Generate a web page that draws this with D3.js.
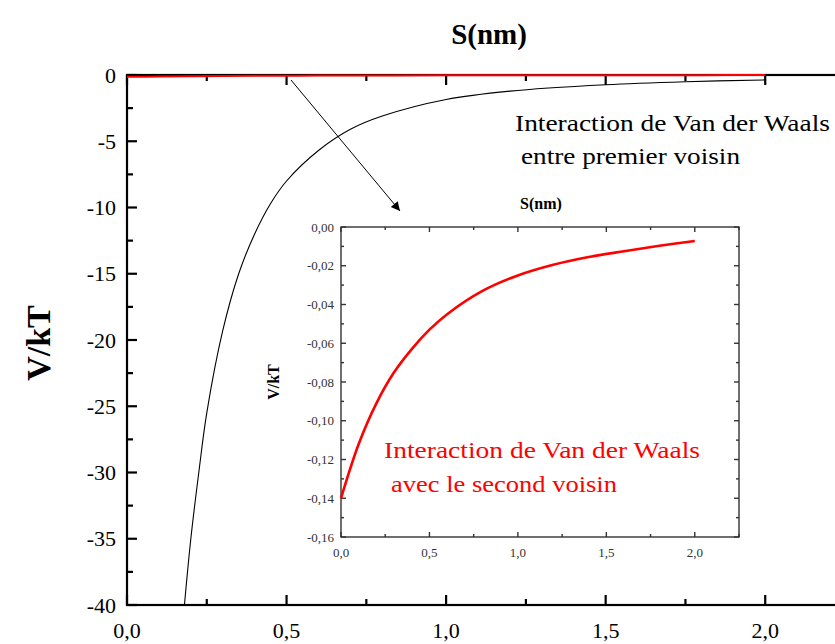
<!DOCTYPE html>
<html>
<head>
<meta charset="utf-8">
<script src="https://cdn.jsdelivr.net/npm/d3@7"></script>
<style>
  html, body { margin: 0; padding: 0; background: #fff; }
  svg { display: block; }
  svg text { font-family: 'Liberation Serif', 'Times New Roman', Tinos, 'Noto Serif', 'DejaVu Serif', FreeSerif, serif; }
</style>
</head>
<body>
<svg id="chart" width="835" height="644"></svg>
<script>
// ---- Data ----
// Main curve: first-neighbour Van der Waals interaction (V/kT vs S in nm)
const mainS = [0.18, 0.2, 0.225, 0.25, 0.3, 0.35, 0.4, 0.45, 0.5, 0.6, 0.7, 0.8, 1.0, 1.2, 1.5, 1.75, 2.0];
const mainV = [-40, -35, -30, -25.5, -19.3, -15, -12.0, -9.7, -8.0, -5.7, -4.1, -3.1, -1.85, -1.22, -0.74, -0.51, -0.37];
// Second-neighbour curve (shown in the inset, and flat on the main axes)
const secS = [0, 0.1, 0.2, 0.3, 0.4, 0.5, 0.6, 0.8, 1.0, 1.2, 1.4, 1.6, 1.8, 2.0];
const secV = [-0.140, -0.112, -0.091, -0.075, -0.063, -0.053, -0.045, -0.033, -0.025, -0.0195, -0.0155, -0.0125, -0.0097, -0.0072];
// Tick labels
const mainXTicks = [0, 0.5, 1.0, 1.5, 2.0];
const mainYTicks = [0, -5, -10, -15, -20, -25, -30, -35, -40];
const insetXTicks = [0, 0.5, 1.0, 1.5, 2.0];
const insetYTicks = [0, -0.02, -0.04, -0.06, -0.08, -0.10, -0.12, -0.14, -0.16];
// Texts
const xTitle = "S(nm)";
const yTitle = "V/kT";
const note1 = ["Interaction de Van der Waals", "entre premier voisin"];
const note2 = ["Interaction de Van der Waals", "avec le second voisin"];

const svg = d3.select("#chart");
const fmt = (f) => (d) => f(d).replace(".", ",").replace("\u2212", "-");

// ---- Main plot ----
const M = { left: 127, top: 75, right: 845, bottom: 605 };
const x = d3.scaleLinear().domain([0, 2.25]).range([M.left, M.right]);
const y = d3.scaleLinear().domain([-40, 0]).range([M.bottom, M.top]);

const defs = svg.append("defs");
defs.append("clipPath").attr("id", "mainclip")
  .append("rect").attr("x", M.left).attr("y", M.top - 3).attr("width", M.right - M.left).attr("height", M.bottom - M.top + 3);

function frame(g, xs, ys, o) {
  const isMaj = (arr, v) => arr.some(m => Math.abs(m - v) < 1e-6);
  xs.forEach(v => {
    const px = o.x(v), L = isMaj(o.xMajor, v) ? o.majLen : o.minLen;
    g.append("line").attr("x1", px).attr("x2", px).attr("y1", o.bottom).attr("y2", o.bottom - L)
      .attr("stroke", o.stroke).attr("stroke-width", o.sw);
    if (v <= o.topTicksMax + 1e-6)
      g.append("line").attr("x1", px).attr("x2", px).attr("y1", o.top).attr("y2", o.top + L)
        .attr("stroke", o.stroke).attr("stroke-width", o.sw);
  });
  ys.forEach(v => {
    const py = o.y(v), L = isMaj(o.yMajor, v) ? o.majLen : o.minLen;
    g.append("line").attr("x1", o.left).attr("x2", o.left + L).attr("y1", py).attr("y2", py)
      .attr("stroke", o.stroke).attr("stroke-width", o.sw);
    g.append("line").attr("x1", o.right).attr("x2", o.right - L).attr("y1", py).attr("y2", py)
      .attr("stroke", o.stroke).attr("stroke-width", o.sw);
  });
  g.append("rect").attr("x", o.left).attr("y", o.top).attr("width", o.right - o.left).attr("height", o.bottom - o.top)
    .attr("fill", "none").attr("stroke", o.stroke).attr("stroke-width", o.sw);
}

const gMain = svg.append("g");
frame(gMain, d3.range(0, 2.251, 0.25), d3.range(-40, 0.01, 2.5), {
  x, y, xMajor: mainXTicks, yMajor: mainYTicks, majLen: 10, minLen: 6,
  stroke: "#000", sw: 2.2, left: M.left, right: M.right, top: M.top, bottom: M.bottom, topTicksMax: 2.0
});

gMain.selectAll("text.xl").data(mainXTicks).join("text").attr("class", "xl")
  .attr("x", d => x(d)).attr("y", 638).attr("text-anchor", "middle")
  .attr("font-size", 22).attr("fill", "#000").text(fmt(d3.format(".1f")));
gMain.selectAll("text.yl").data(mainYTicks).join("text").attr("class", "yl")
  .attr("x", 116).attr("y", d => y(d)).attr("dy", "0.35em").attr("text-anchor", "end")
  .attr("font-size", 22).attr("fill", "#000").text(fmt(d3.format("d")));

// titles
svg.append("text").attr("x", 489).attr("y", 44).attr("text-anchor", "middle")
  .attr("font-size", 29).attr("font-weight", "bold").text(xTitle);
svg.append("text").attr("transform", "translate(50,343) rotate(-90)").attr("text-anchor", "middle")
  .attr("font-size", 34).attr("font-weight", "bold").text(yTitle);

// main curves
const lineMain = d3.line().x(d => x(d[0])).y(d => y(d[1])).curve(d3.curveCatmullRom.alpha(0.5));
svg.append("path").datum(mainS.map((s, i) => [s, mainV[i]]))
  .attr("clip-path", "url(#mainclip)")
  .attr("d", lineMain).attr("fill", "none").attr("stroke", "#000").attr("stroke-width", 1.1);
svg.append("path").datum(secS.map((s, i) => [s, secV[i]]))
  .attr("d", lineMain).attr("fill", "none").attr("stroke", "#ff0000").attr("stroke-width", 2);

// annotation 1
svg.append("text").attr("x", 515).attr("y", 131).attr("font-size", 24)
  .attr("textLength", 315).attr("lengthAdjust", "spacingAndGlyphs").attr("fill", "#000").text(note1[0]);
svg.append("text").attr("x", 521).attr("y", 164).attr("font-size", 24)
  .attr("textLength", 219).attr("lengthAdjust", "spacingAndGlyphs").attr("fill", "#000").text(note1[1]);

// arrow
defs.append("marker").attr("id", "arrow").attr("viewBox", "0 0 10 10").attr("refX", 10).attr("refY", 5)
  .attr("markerWidth", 15).attr("markerHeight", 9).attr("markerUnits", "userSpaceOnUse").attr("orient", "auto")
  .append("path").attr("d", "M0,0 L10,5 L0,10 Z").attr("fill", "#000");
svg.append("line").attr("x1", 291).attr("y1", 80).attr("x2", 400).attr("y2", 211)
  .attr("stroke", "#000").attr("stroke-width", 1).attr("marker-end", "url(#arrow)");

// ---- Inset ----
const I = { left: 341, top: 227, right: 739, bottom: 537 };
const xi = d3.scaleLinear().domain([0, 2.25]).range([I.left, I.right]);
const yi = d3.scaleLinear().domain([-0.16, 0]).range([I.bottom, I.top]);
const gIn = svg.append("g");
gIn.append("rect").attr("x", I.left).attr("y", I.top).attr("width", I.right - I.left).attr("height", I.bottom - I.top).attr("fill", "#fff");
frame(gIn, d3.range(0, 2.251, 0.25), d3.range(-16, 0.5, 1).map(v => v / 100), {
  x: xi, y: yi, xMajor: insetXTicks, yMajor: insetYTicks, majLen: 5, minLen: 3,
  stroke: "#333", sw: 1.4, left: I.left, right: I.right, top: I.top, bottom: I.bottom, topTicksMax: 2.25
});
gIn.selectAll("text.xl").data(insetXTicks).join("text").attr("class", "xl")
  .attr("x", d => xi(d)).attr("y", 557).attr("text-anchor", "middle")
  .attr("font-size", 13).attr("fill", "#333").text(fmt(d3.format(".1f")));
gIn.selectAll("text.yl").data(insetYTicks).join("text").attr("class", "yl")
  .attr("x", 334).attr("y", d => yi(d)).attr("dy", "0.35em").attr("text-anchor", "end")
  .attr("font-size", 13).attr("fill", "#333").text(fmt(d3.format(".2f")));
svg.append("text").attr("x", 541).attr("y", 209).attr("text-anchor", "middle")
  .attr("font-size", 16).attr("font-weight", "bold").text(xTitle);
svg.append("text").attr("transform", "translate(279,382) rotate(-90)").attr("text-anchor", "middle")
  .attr("font-size", 16).attr("font-weight", "bold").text(yTitle);

const lineIn = d3.line().x(d => xi(d[0])).y(d => yi(d[1])).curve(d3.curveCatmullRom.alpha(0.5));
svg.append("path").datum(secS.map((s, i) => [s, secV[i]]))
  .attr("d", lineIn).attr("fill", "none").attr("stroke", "#ff0000").attr("stroke-width", 2.6);

svg.append("text").attr("x", 384).attr("y", 458).attr("font-size", 24)
  .attr("textLength", 316).attr("lengthAdjust", "spacingAndGlyphs").attr("fill", "#ff0000").text(note2[0]);
svg.append("text").attr("x", 391).attr("y", 492).attr("font-size", 24)
  .attr("textLength", 226).attr("lengthAdjust", "spacingAndGlyphs").attr("fill", "#ff0000").text(note2[1]);
</script>
</body>
</html>
